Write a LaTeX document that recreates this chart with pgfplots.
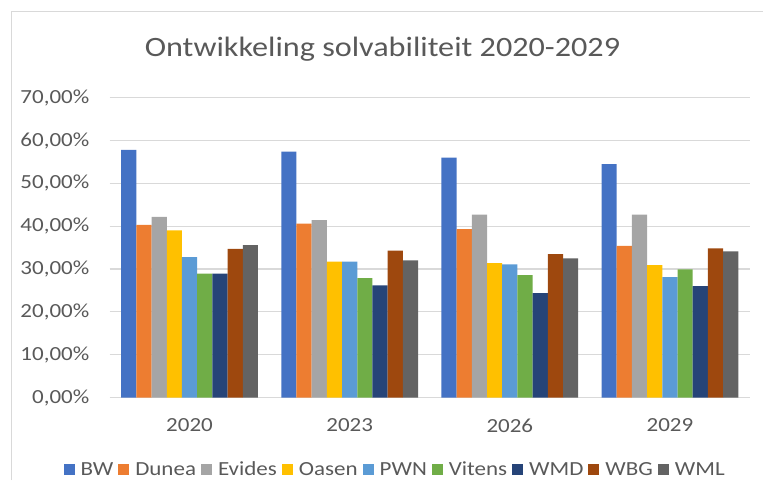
\documentclass[border=0pt]{standalone}
\usepackage{fontspec}
\setmainfont{Carlito}[FakeStretch=1.15]
\usepackage{pgfplots}
\pgfplotsset{compat=1.18}
\usepackage{pgfplotstable}

\definecolor{txtgray}{HTML}{595959}
\definecolor{gridgray}{HTML}{D9D9D9}
\definecolor{cBW}{HTML}{4472C4}
\definecolor{cDunea}{HTML}{ED7D31}
\definecolor{cEvides}{HTML}{A5A5A5}
\definecolor{cOasen}{HTML}{FFC000}
\definecolor{cPWN}{HTML}{5B9BD5}
\definecolor{cVitens}{HTML}{70AD47}
\definecolor{cWMD}{HTML}{264478}
\definecolor{cWBG}{HTML}{9E480E}
\definecolor{cWML}{HTML}{636363}

% solvabiliteit in %, per jaar (x = 0..3 -> 2020, 2023, 2026, 2029)
\pgfplotstableread{
x  BW    Dunea Evides Oasen PWN   Vitens WMD   WBG   WML
0  57.8  40.3  42.2   39.0  32.8  28.9   28.9  34.7  35.6
1  57.4  40.6  41.4   31.7  31.7  27.9   26.2  34.3  32.0
2  56.0  39.3  42.7   31.4  31.1  28.6   24.4  33.5  32.5
3  54.5  35.4  42.7   30.9  28.1  29.9   26.0  34.8  34.1
}\solv

\pgfplotsset{
  sq/.style={fill=#1, draw=none,
    legend image code/.code={\fill[#1] (0pt,-5.5pt) rectangle (11pt,5.5pt);}},
}

\begin{document}
\begin{tikzpicture}
\useasboundingbox (0pt,0pt) rectangle (763pt,480pt);
\draw[gridgray, line width=1.3pt] (11.7pt,0pt) -- (11.7pt,468.3pt) -- (763pt,468.3pt);
\node[anchor=base, text=txtgray, font=\fontsize{28}{32}\selectfont]
  at (382.5pt,423pt) {Ontwikkeling solvabiliteit 2020-2029};
\begin{axis}[
  at={(109.5pt,82.5pt)}, anchor=south west,
  scale only axis,
  width=640.5pt, height=299.8pt,
  ybar=0pt, bar width=15.2pt,
  xmin=-0.5, xmax=3.5,
  ymin=0, ymax=70,
  xtick={0,1,2,3},
  xticklabels={2020,2023,2026,2029},
  ytick={0,10,...,70},
  yticklabels={{0,00\%},{10,00\%},{20,00\%},{30,00\%},{40,00\%},{50,00\%},{60,00\%},{70,00\%}},
  axis line style={draw=none},
  major tick length=0pt,
  ymajorgrids,
  major grid style={gridgray, line width=1.3pt},
  ticklabel style={font=\fontsize{20}{24}\selectfont, text=txtgray, inner sep=0pt},
  yticklabel style={anchor=east, xshift=-20pt},
  xticklabel style={anchor=north, yshift=-21pt},
  legend columns=9,
  legend style={draw=none, fill=none, at={(0.446,-0.241)}, anchor=center,
    font=\fontsize{20}{24}\selectfont, text=txtgray, inner sep=0pt,
    /tikz/every odd column/.append style={column sep=4pt},
    /tikz/every even column/.append style={column sep=3pt},
    nodes={inner sep=2pt}},
  legend cell align=left,
]
\addplot[sq=cBW]     table[x=x, y=BW]     {\solv};
\addplot[sq=cDunea]  table[x=x, y=Dunea]  {\solv};
\addplot[sq=cEvides] table[x=x, y=Evides] {\solv};
\addplot[sq=cOasen]  table[x=x, y=Oasen]  {\solv};
\addplot[sq=cPWN]    table[x=x, y=PWN]    {\solv};
\addplot[sq=cVitens] table[x=x, y=Vitens] {\solv};
\addplot[sq=cWMD]    table[x=x, y=WMD]    {\solv};
\addplot[sq=cWBG]    table[x=x, y=WBG]    {\solv};
\addplot[sq=cWML]    table[x=x, y=WML]    {\solv};
\legend{BW,Dunea,Evides,Oasen,PWN,Vitens,WMD,WBG,WML}
\end{axis}
\end{tikzpicture}
\end{document}
